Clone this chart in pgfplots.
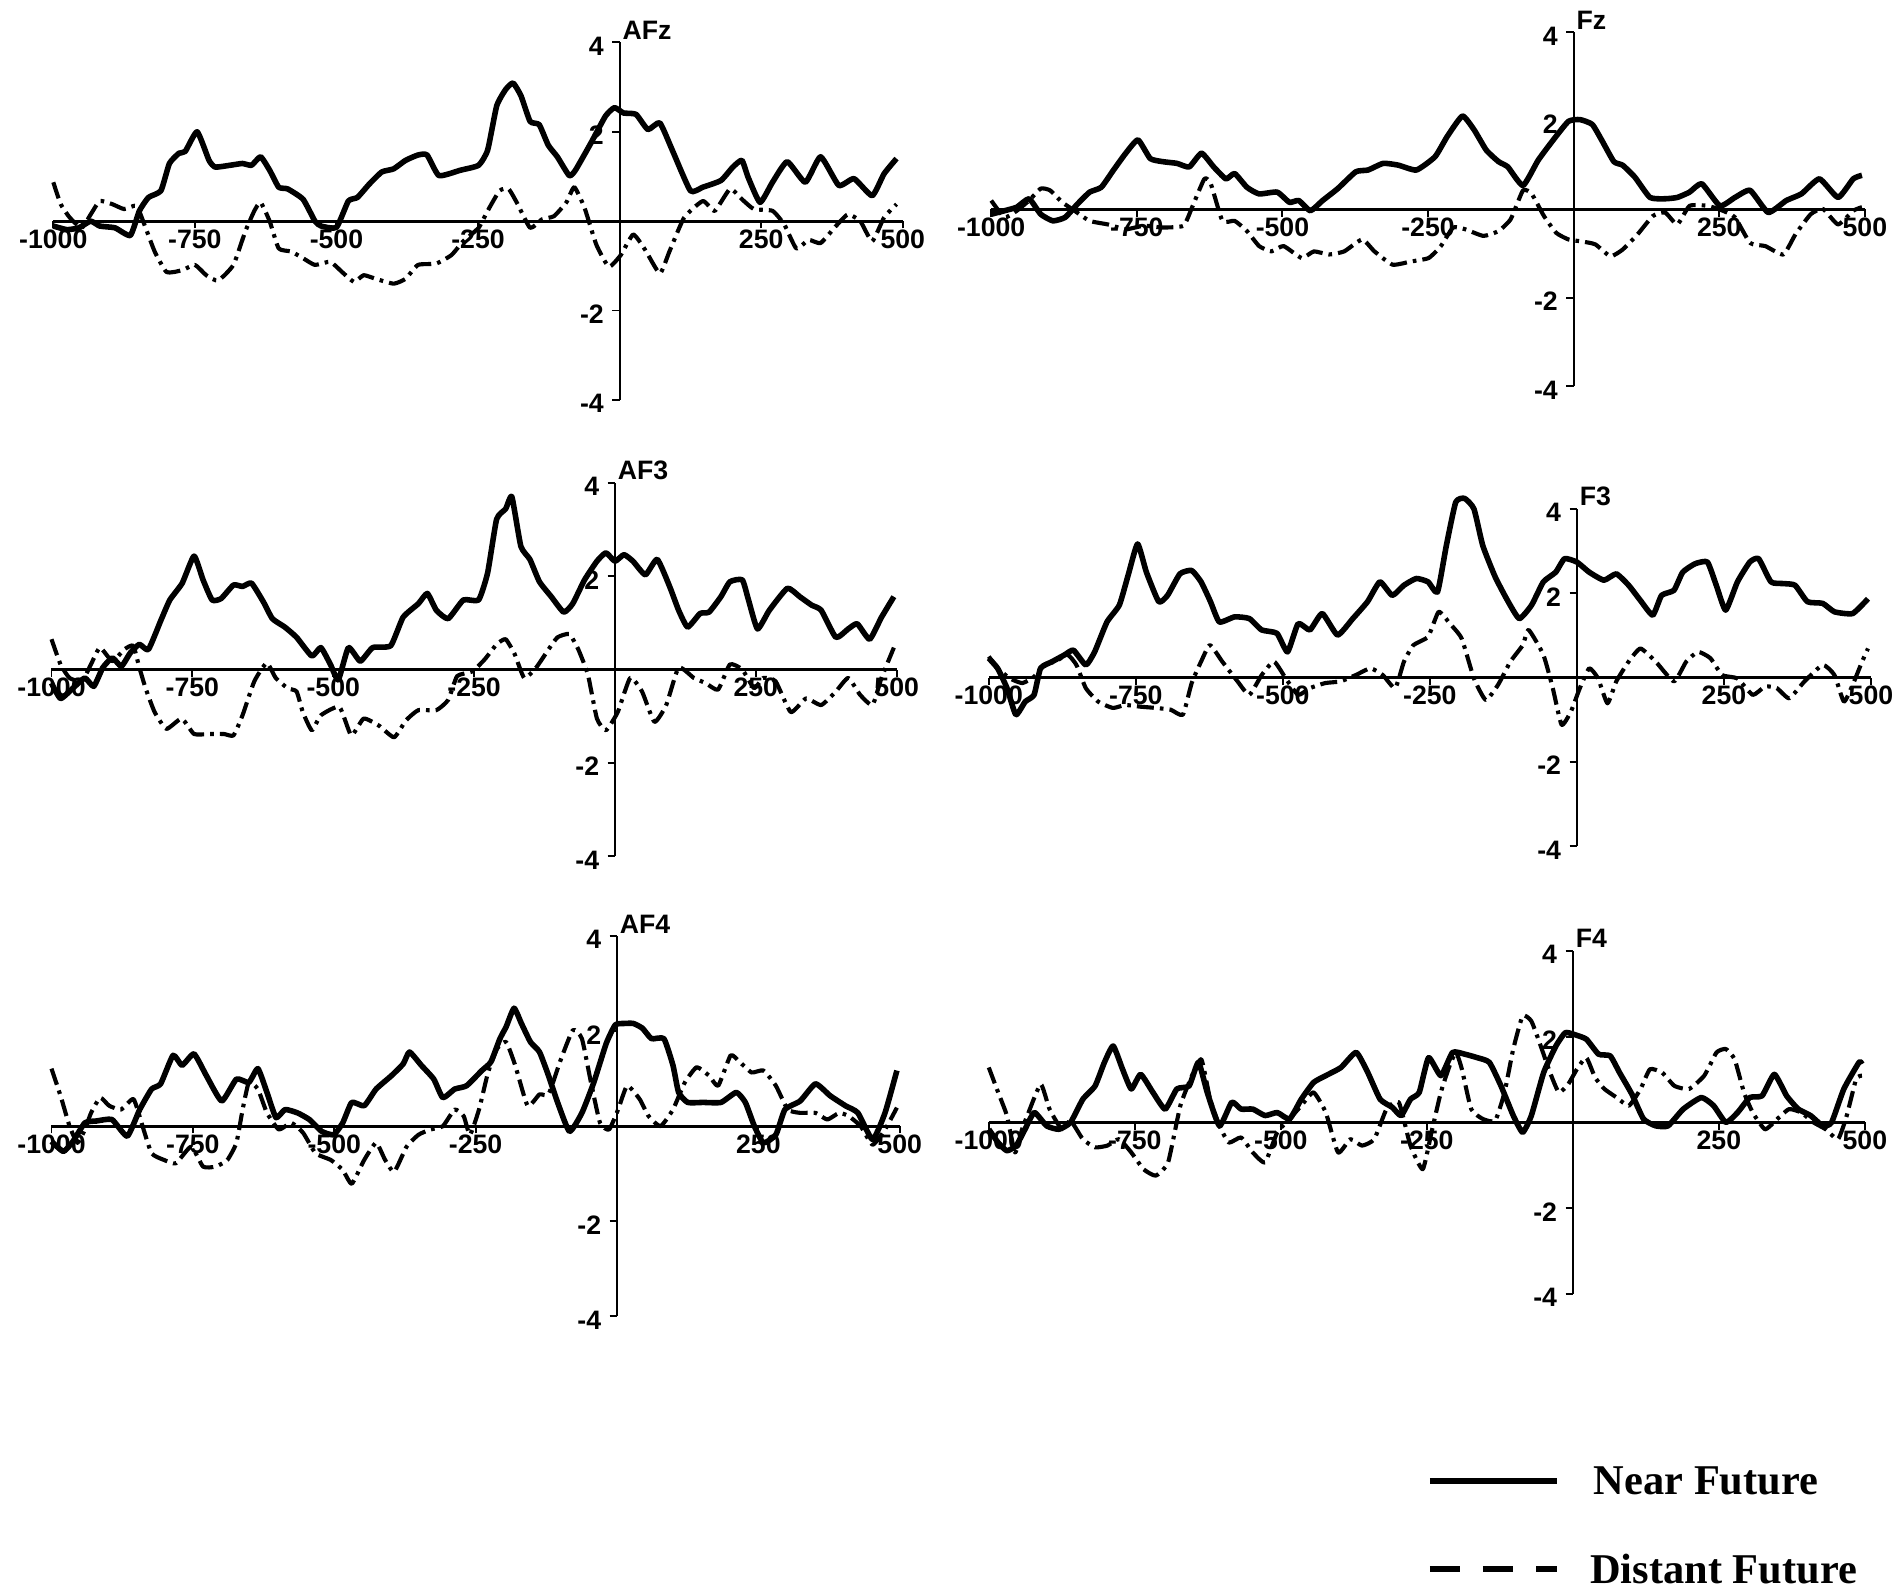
\documentclass[border=0pt]{standalone}
\usepackage{fontspec}
\setmainfont{Liberation Sans}
\newfontfamily\tnr{Liberation Serif}
\usepackage{pgfplots}
\pgfplotsset{compat=1.18}
\tikzset{ttl/.style={anchor=south west, inner sep=1pt, font=\bfseries\fontsize{11}{12}\selectfont}}
\pgfplotsset{
  eeg/.style={
    scale only axis, axis lines=middle,
    xmin=-1000,xmax=500,ymin=-4,ymax=4, enlargelimits=false, clip=false,
    xtick={-1000,-750,-500,-250,250,500},
    xticklabels={-1000,-750,-500,-250,250,500},
    ytick={-4,-2,2,4}, yticklabels={-4,-2,2,4},
    tick align=outside, major tick length=3pt,
    tick style={black, line width=0.8pt},
    x axis line style={-, line width=1.3pt},
    y axis line style={-, line width=0.8pt},
    tick label style={font=\bfseries\fontsize{11}{12}\selectfont},
    xticklabel style={yshift=3pt},
    yticklabel style={yshift=-1.5pt},
    anchor=south west,
  },
  nf/.style={black, line width=2.3pt, line join=round, no marks, smooth, tension=0.3},
  df/.style={black, line width=1.7pt, line join=round, no marks, smooth, tension=0.3, dash pattern=on 7pt off 2.5pt on 1.5pt off 2.5pt},
}
\begin{document}
\begin{tikzpicture}
\useasboundingbox (0,0) rectangle (784pt,656pt);
% ---------------- AFz
\begin{axis}[eeg, at={(22pt,491pt)}, width=350.5pt, height=147.5pt]
\addplot[nf] coordinates {(-1000,-0.11)(-976,-0.19)(-955,-0.15)(-934,0)(-918,-0.11)(-891,-0.15)(-864,-0.32)(-848,0.23)(-832,0.53)(-810,0.68)(-795,1.29)(-778,1.52)(-767,1.56)(-746,2.0)(-725,1.36)(-714,1.21)(-688,1.25)(-666,1.29)(-650,1.25)(-634,1.44)(-618,1.14)(-602,0.76)(-586,0.72)(-559,0.49)(-538,0)(-527,-0.11)(-500,-0.14)(-479,0.45)(-463,0.53)(-442,0.83)(-420,1.1)(-399,1.17)(-378,1.36)(-356,1.48)(-340,1.48)(-319,1.02)(-281,1.14)(-249,1.25)(-233,1.59)(-217,2.58)(-201,2.95)(-188,3.09)(-174,2.80)(-158,2.23)(-142,2.16)(-126,1.70)(-110,1.44)(-89,1.02)(-78,1.14)(-51,1.74)(-25,2.35)(-9,2.54)(7,2.42)(29,2.39)(50,2.05)(71,2.2)(93,1.59)(125,0.68)(147,0.76)(179,0.91)(200,1.21)(216,1.36)(227,0.98)(248,0.42)(270,0.87)(296,1.33)(328,0.87)(355,1.44)(387,0.8)(414,0.95)(446,0.57)(467,1.06)(489,1.40)};
\addplot[df] coordinates {(-1000,0.87)(-987,0.38)(-971,0.08)(-950,-0.15)(-934,0.15)(-918,0.45)(-896,0.38)(-875,0.27)(-853,0.34)(-837,-0.15)(-821,-0.68)(-800,-1.14)(-773,-1.10)(-750,-0.98)(-730,-1.21)(-709,-1.33)(-682,-0.98)(-661,-0.23)(-645,0.23)(-634,0.42)(-618,0)(-602,-0.61)(-580,-0.68)(-559,-0.83)(-538,-0.98)(-511,-0.91)(-490,-1.14)(-469,-1.36)(-452,-1.21)(-431,-1.29)(-399,-1.40)(-378,-1.29)(-356,-0.98)(-324,-0.95)(-297,-0.76)(-276,-0.45)(-249,-0.15)(-233,0.23)(-212,0.68)(-196,0.72)(-180,0.38)(-158,-0.15)(-137,0.04)(-116,0.11)(-94,0.42)(-80,0.76)(-62,0.30)(-41,-0.53)(-19,-1.02)(2,-0.76)(24,-0.30)(45,-0.64)(71,-1.17)(88,-0.68)(114,0.08)(147,0.45)(168,0.23)(195,0.72)(216,0.49)(237,0.27)(270,0.23)(291,-0.08)(312,-0.61)(334,-0.42)(355,-0.49)(382,-0.11)(403,0.15)(425,0)(446,-0.45)(467,0.08)(489,0.38)};
\node[ttl] at (axis cs:0,4) {AFz};
\end{axis}
% ---------------- Fz
\begin{axis}[eeg, at={(409pt,496.6pt)}, width=360.5pt, height=146pt]
\addplot[nf] coordinates {(-1000,-0.11)(-977,-0.03)(-956,0.05)(-935,0.24)(-915,-0.11)(-894,-0.26)(-873,-0.18)(-852,0.12)(-831,0.39)(-811,0.50)(-790,0.89)(-769,1.27)(-748,1.57)(-727,1.15)(-706,1.08)(-681,1.04)(-660,0.96)(-639,1.27)(-618,0.96)(-597,0.69)(-582,0.81)(-561,0.50)(-540,0.35)(-509,0.39)(-488,0.16)(-472,0.20)(-452,-0.03)(-431,0.20)(-405,0.47)(-374,0.85)(-353,0.89)(-327,1.04)(-301,1.0)(-270,0.89)(-238,1.19)(-217,1.65)(-191,2.11)(-171,1.80)(-150,1.34)(-129,1.08)(-113,0.96)(-87,0.54)(-61,1.11)(-35,1.57)(-9,1.99)(11,2.03)(32,1.92)(48,1.57)(69,1.08)(84,1.0)(105,0.73)(131,0.27)(157,0.24)(178,0.27)(199,0.39)(220,0.58)(251,0.08)(277,0.27)(303,0.43)(334,-0.07)(365,0.20)(391,0.35)(422,0.69)(454,0.27)(480,0.69)(495,0.77)};
\addplot[df] coordinates {(-1000,0.20)(-977,-0.18)(-956,-0.03)(-935,0.20)(-915,0.47)(-899,0.43)(-878,0.16)(-857,-0.03)(-831,-0.26)(-800,-0.34)(-769,-0.45)(-738,-0.37)(-706,-0.41)(-670,-0.37)(-655,0.05)(-634,0.69)(-623,0.58)(-603,-0.26)(-582,-0.26)(-561,-0.49)(-540,-0.83)(-519,-0.95)(-498,-0.83)(-467,-1.10)(-446,-0.95)(-420,-1.02)(-394,-0.95)(-363,-0.68)(-342,-0.95)(-311,-1.25)(-280,-1.18)(-249,-1.10)(-228,-0.83)(-207,-0.41)(-186,-0.45)(-155,-0.60)(-129,-0.49)(-108,-0.22)(-87,0.43)(-72,0.35)(-51,-0.15)(-30,-0.53)(-9,-0.68)(11,-0.72)(37,-0.79)(63,-1.06)(84,-0.91)(110,-0.56)(136,-0.15)(157,-0.07)(178,-0.34)(199,0.08)(230,0.08)(256,-0.03)(277,-0.18)(303,-0.76)(329,-0.83)(360,-1.02)(381,-0.56)(407,-0.11)(428,0.01)(454,-0.34)(480,-0.03)(495,0.05)};
\node[ttl] at (axis cs:0,4) {Fz};
\end{axis}
% ---------------- AF3
\begin{axis}[eeg, at={(21.25pt,302.65pt)}, width=348.75pt, height=154.15pt]
\addplot[nf] coordinates {(-1000,-0.29)(-984,-0.62)(-962,-0.40)(-941,-0.18)(-925,-0.36)(-909,0.04)(-892,0.25)(-876,0.07)(-860,0.36)(-844,0.54)(-828,0.43)(-806,1.05)(-790,1.49)(-768,1.85)(-747,2.43)(-731,1.92)(-715,1.49)(-699,1.52)(-677,1.81)(-661,1.78)(-645,1.85)(-624,1.45)(-608,1.09)(-586,0.91)(-565,0.69)(-538,0.29)(-522,0.47)(-505,0.11)(-491,-0.22)(-473,0.47)(-452,0.18)(-430,0.47)(-398,0.51)(-376,1.12)(-349,1.41)(-333,1.63)(-317,1.27)(-296,1.09)(-269,1.49)(-242,1.49)(-226,2.07)(-210,3.22)(-194,3.44)(-183,3.70)(-167,2.64)(-151,2.36)(-134,1.88)(-113,1.56)(-91,1.23)(-75,1.41)(-54,1.92)(-32,2.32)(-16,2.50)(0,2.32)(16,2.46)(32,2.32)(54,2.03)(75,2.36)(97,1.78)(113,1.27)(129,0.91)(151,1.20)(167,1.23)(188,1.56)(204,1.88)(226,1.92)(237,1.49)(253,0.87)(274,1.27)(306,1.74)(328,1.56)(349,1.38)(366,1.27)(392,0.69)(414,0.87)(430,0.98)(452,0.65)(473,1.12)(495,1.56)};
\addplot[df] coordinates {(-1000,0.65)(-984,0.11)(-968,-0.18)(-946,-0.25)(-930,0.11)(-914,0.47)(-892,0.18)(-871,0.43)(-855,0.51)(-844,0.04)(-833,-0.40)(-817,-0.91)(-796,-1.27)(-769,-1.05)(-747,-1.38)(-720,-1.38)(-694,-1.38)(-677,-1.41)(-661,-0.98)(-640,-0.25)(-618,0.14)(-602,-0.18)(-581,-0.40)(-565,-0.47)(-554,-0.91)(-538,-1.30)(-522,-0.98)(-489,-0.80)(-468,-1.41)(-446,-1.05)(-419,-1.20)(-392,-1.45)(-371,-1.09)(-349,-0.87)(-317,-0.87)(-296,-0.65)(-280,-0.14)(-253,-0.04)(-231,0.22)(-210,0.54)(-194,0.65)(-178,0.33)(-161,-0.18)(-140,0.04)(-118,0.43)(-102,0.69)(-81,0.76)(-65,0.43)(-48,-0.11)(-32,-1.05)(-16,-1.30)(5,-0.91)(27,-0.18)(48,-0.47)(70,-1.12)(91,-0.76)(113,0.04)(140,-0.18)(161,-0.29)(183,-0.43)(204,0.11)(226,0)(247,-0.40)(263,-0.18)(285,-0.25)(312,-0.91)(339,-0.62)(366,-0.76)(392,-0.47)(414,-0.18)(435,-0.54)(457,-0.76)(473,-0.18)(495,0.47)};
\node[ttl] at (axis cs:0,4) {AF3};
\end{axis}
% ---------------- F3
\begin{axis}[eeg, at={(408pt,306.8pt)}, width=364pt, height=139.2pt]
\addplot[nf] coordinates {(-1000,0.46)(-985,0.22)(-969,-0.25)(-954,-0.88)(-938,-0.57)(-923,-0.41)(-912,0.22)(-892,0.38)(-871,0.54)(-856,0.65)(-835,0.30)(-820,0.61)(-799,1.32)(-778,1.72)(-763,2.43)(-747,3.17)(-732,2.50)(-711,1.80)(-696,1.95)(-675,2.46)(-655,2.54)(-639,2.27)(-623,1.80)(-608,1.32)(-582,1.44)(-557,1.40)(-536,1.13)(-510,1.05)(-492,0.61)(-474,1.28)(-454,1.13)(-433,1.52)(-407,1.01)(-381,1.40)(-356,1.80)(-335,2.27)(-314,1.95)(-294,2.19)(-273,2.35)(-253,2.27)(-237,2.03)(-222,3.13)(-206,4.16)(-191,4.25)(-175,4.0)(-160,3.13)(-139,2.39)(-118,1.83)(-98,1.40)(-77,1.72)(-57,2.27)(-36,2.50)(-21,2.82)(0,2.74)(21,2.50)(46,2.31)(67,2.46)(88,2.19)(108,1.83)(129,1.48)(144,1.95)(165,2.07)(180,2.50)(201,2.70)(222,2.74)(237,2.19)(253,1.60)(273,2.27)(294,2.74)(309,2.82)(330,2.27)(351,2.23)(371,2.19)(392,1.80)(418,1.76)(438,1.56)(469,1.52)(495,1.87)};
\addplot[df] coordinates {(-1000,0.50)(-985,0.22)(-964,-0.02)(-943,-0.13)(-923,0.02)(-907,0.30)(-887,0.38)(-866,0.54)(-851,0.30)(-835,-0.25)(-814,-0.57)(-789,-0.72)(-768,-0.65)(-742,-0.69)(-716,-0.72)(-691,-0.76)(-670,-0.88)(-655,-0.13)(-639,0.38)(-624,0.77)(-603,0.38)(-577,-0.09)(-557,-0.41)(-536,0.06)(-515,0.38)(-495,-0.02)(-474,-0.41)(-454,-0.25)(-428,-0.13)(-402,-0.09)(-376,0.06)(-351,0.22)(-330,0.06)(-309,-0.25)(-294,0.38)(-278,0.77)(-253,0.97)(-235,1.56)(-216,1.28)(-196,0.93)(-175,-0.02)(-155,-0.53)(-134,-0.17)(-113,0.38)(-92,0.77)(-82,1.13)(-57,0.54)(-41,-0.25)(-26,-1.12)(-10,-0.80)(5,-0.25)(21,0.22)(36,-0.02)(52,-0.61)(67,-0.09)(88,0.38)(108,0.69)(134,0.38)(165,-0.09)(186,0.38)(206,0.61)(227,0.46)(247,0.06)(273,-0.02)(299,-0.41)(320,-0.21)(340,-0.25)(361,-0.49)(387,-0.09)(418,0.30)(438,0.06)(454,-0.57)(469,-0.17)(485,0.38)(495,0.69)};
\node[ttl] at (axis cs:0,4) {F3};
\end{axis}
% ---------------- AF4
\begin{axis}[eeg, at={(21.25pt,112.8pt)}, width=350pt, height=157pt]
\addplot[nf] coordinates {(-1000,-0.32)(-979,-0.53)(-962,-0.32)(-941,0.07)(-920,0.11)(-893,0.14)(-866,-0.21)(-844,0.35)(-823,0.78)(-807,0.89)(-785,1.49)(-769,1.28)(-748,1.52)(-726,1.06)(-699,0.53)(-673,0.99)(-651,0.92)(-635,1.21)(-619,0.71)(-603,0.18)(-587,0.35)(-565,0.28)(-544,0.14)(-522,-0.11)(-501,-0.18)(-485,0.07)(-469,0.50)(-447,0.43)(-426,0.78)(-399,1.06)(-378,1.31)(-367,1.56)(-346,1.28)(-324,0.99)(-308,0.60)(-287,0.78)(-266,0.85)(-239,1.17)(-223,1.35)(-207,1.84)(-196,2.09)(-182,2.48)(-169,2.16)(-153,1.77)(-137,1.56)(-121,1.06)(-105,0.50)(-84,-0.11)(-62,0.28)(-41,0.92)(-19,1.74)(-3,2.13)(13,2.16)(29,2.16)(45,2.06)(61,1.84)(83,1.84)(99,1.28)(109,0.71)(125,0.50)(152,0.50)(184,0.50)(211,0.71)(227,0.50)(243,0)(259,-0.35)(281,-0.18)(297,0.35)(324,0.53)(351,0.89)(377,0.64)(404,0.43)(426,0.28)(452,-0.28)(474,0.28)(495,1.17)};
\addplot[df] coordinates {(-1000,1.21)(-984,0.64)(-968,0)(-954,-0.35)(-941,-0.07)(-930,0.28)(-914,0.60)(-898,0.43)(-877,0.35)(-855,0.57)(-839,0)(-823,-0.57)(-801,-0.71)(-780,-0.78)(-753,-0.43)(-732,-0.85)(-710,-0.85)(-689,-0.71)(-673,-0.35)(-662,0.35)(-651,0.92)(-635,0.78)(-619,0.28)(-598,-0.07)(-576,0.07)(-555,-0.14)(-533,-0.57)(-506,-0.71)(-485,-0.92)(-469,-1.21)(-447,-0.71)(-426,-0.35)(-410,-0.71)(-394,-0.96)(-372,-0.43)(-351,-0.18)(-330,-0.07)(-308,0)(-287,0.35)(-271,0.21)(-260,-0.18)(-244,0.35)(-228,1.13)(-212,1.63)(-196,1.77)(-180,1.28)(-158,0.43)(-137,0.67)(-121,0.67)(-100,1.38)(-78,2.02)(-62,1.84)(-46,0.92)(-30,0.07)(-14,-0.07)(2,0.35)(18,0.85)(40,0.57)(56,0.21)(77,0)(99,0.35)(120,0.92)(141,1.24)(163,1.06)(179,0.85)(201,1.49)(217,1.35)(238,1.13)(259,1.17)(281,0.85)(302,0.35)(324,0.28)(351,0.28)(372,0.14)(393,0.28)(410,0.21)(431,0)(452,-0.39)(474,-0.07)(495,0.39)};
\node[ttl] at (axis cs:0,4) {AF4};
\end{axis}
% ---------------- F4
\begin{axis}[eeg, at={(408pt,122pt)}, width=361.5pt, height=141.7pt]
\addplot[nf] coordinates {(-1000,-0.16)(-984,-0.47)(-969,-0.66)(-953,-0.54)(-938,-0.16)(-922,0.23)(-901,-0.08)(-880,-0.16)(-860,0)(-839,0.54)(-818,0.85)(-802,1.40)(-787,1.78)(-771,1.24)(-756,0.78)(-740,1.12)(-719,0.70)(-698,0.31)(-678,0.78)(-657,0.85)(-641,1.40)(-626,0.70)(-605,-0.08)(-584,0.47)(-568,0.31)(-548,0.31)(-527,0.16)(-506,0.23)(-485,0.08)(-465,0.54)(-444,0.93)(-423,1.09)(-397,1.28)(-371,1.63)(-351,1.16)(-330,0.54)(-309,0.35)(-294,0.16)(-278,0.54)(-263,0.70)(-247,1.51)(-226,1.09)(-206,1.63)(-185,1.59)(-164,1.51)(-143,1.40)(-123,0.85)(-102,0.16)(-86,-0.23)(-71,0.16)(-50,1.16)(-29,1.78)(-13,2.09)(2,2.05)(23,1.94)(44,1.59)(64,1.55)(80,1.16)(101,0.66)(121,0.08)(142,-0.08)(163,-0.08)(189,0.31)(220,0.58)(241,0.39)(262,0)(282,0.23)(303,0.58)(324,0.62)(345,1.12)(366,0.62)(386,0.31)(407,0.16)(428,-0.08)(443,0)(464,0.78)(490,1.40)(495,1.36)};
\addplot[df] coordinates {(-1000,1.28)(-984,0.70)(-969,0.16)(-955,-0.70)(-943,-0.16)(-932,0.23)(-911,0.89)(-896,0.31)(-875,-0.16)(-860,0.04)(-839,-0.39)(-818,-0.58)(-797,-0.54)(-777,-0.39)(-756,-0.70)(-735,-1.09)(-714,-1.24)(-693,-0.93)(-672,0.39)(-652,1.09)(-636,1.47)(-621,0.54)(-605,-0.08)(-589,-0.47)(-568,-0.35)(-548,-0.70)(-527,-0.93)(-506,-0.23)(-485,0.08)(-465,0.39)(-444,0.70)(-423,0.23)(-402,-0.70)(-381,-0.39)(-361,-0.54)(-340,-0.39)(-319,0.31)(-298,0.47)(-278,-0.54)(-257,-1.09)(-242,-0.23)(-226,0.70)(-211,1.32)(-200,1.63)(-190,1.24)(-174,0.31)(-154,0.08)(-133,0.04)(-117,0.70)(-102,1.71)(-86,2.48)(-71,2.36)(-55,1.78)(-39,1.16)(-24,0.70)(-8,0.89)(7,1.24)(23,1.51)(38,1.05)(54,0.78)(75,0.58)(96,0.39)(116,0.78)(132,1.24)(153,1.16)(174,0.85)(199,0.78)(225,1.09)(246,1.63)(262,1.71)(277,1.47)(293,0.70)(308,0.23)(329,-0.16)(350,0.08)(370,0.31)(391,0.23)(412,0)(433,-0.16)(454,-0.39)(469,0.16)(485,1.01)(495,1.09)};
\node[ttl] at (axis cs:0,4) {F4};
\end{axis}
% ---------------- legend
\draw[line width=2.5pt] (590pt,45pt) -- (642.5pt,45pt);
\node[anchor=base west, inner sep=0pt, font=\tnr\bfseries\fontsize{17.5}{20}\selectfont] at (657.5pt,39.2pt) {Near Future};
\draw[line width=2.5pt, dash pattern=on 12.4pt off 9.5pt] (590pt,8.5pt) -- (642.5pt,8.5pt);
\node[anchor=base west, inner sep=0pt, font=\tnr\bfseries\fontsize{17.5}{20}\selectfont] at (656pt,2.7pt) {Distant Future};
\end{tikzpicture}
\end{document}
